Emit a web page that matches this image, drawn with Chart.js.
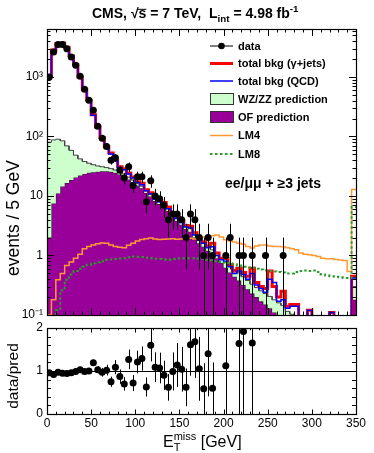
<!DOCTYPE html>
<html>
<head>
<meta charset="utf-8">
<script src="https://cdn.jsdelivr.net/npm/chart.js@4.4.1/dist/chart.umd.min.js"></script>
<style>
html, body { margin: 0; padding: 0; background: #fff; }
#wrap { position: relative; width: 374px; height: 453px; }
#wrap canvas { position: absolute; left: 0; top: 0; }
</style>
</head>
<body>
<div id="wrap">
  <canvas id="mainChart" width="374" height="453"></canvas>
  <canvas id="ratioChart" width="374" height="453"></canvas>
</div>
<script>
// E_T^miss histogram, 5 GeV bins from 0 to 350
const binWidth = 5;
const nBins = 70;
const xTicks = [0, 50, 100, 150, 200, 250, 300, 350];
const yMainTicks = [0.1, 1, 10, 100, 1000];
const yMainLabels = ['10\u207B\u00B9', '1', '10', '10\u00B2', '10\u00B3'];
const yRatioTicks = [0, 1, 2];

const dataCounts = [
  1000, 2620, 3530, 3530, 2980, 2160, 1580, 1030, 622, 406,
  276, 148, 93, 68, 40, 44, 27, 20, 31, 15,
  21, 21, 8, 18, 10, 9, 7, 4, 5, 5,
  4, 2, 5, 4, 2, 1, 2, 1, 0, 0,
  1, 2, 0, 1, 1, 0, 1, 0, 0, 1,
  0, 0, 0, 1, 0, 0, 0, 0, 0, 0,
  0, 0, 0, 0, 0, 0, 0, 0, 0, 0
];
const totGammaJets = [
  1040, 2850, 3640, 3720, 3170, 2250, 1600, 1000, 628, 406,
  232, 144, 96, 67, 53, 40, 31, 28.6, 24.4, 20.8,
  17.4, 16.3, 12.7, 11.3, 9.2, 8.4, 7.8, 6.5, 5.05, 4.4,
  3.85, 3.2, 3.1, 2.4, 1.9, 1.7, 1.43, 1.6, 1.1, 0.9,
  0.89, 0.7, 0.55, 0.61, 0.52, 0.45, 0.61, 0.35, 0.3, 0.28,
  0.55, 0.3, 0.2, 0.25, 0.14, 0.15, 0.15, 0.09, 0.09, 0.12,
  0.08, 0.08, 0.08, 0.08, 0.11, 0.08, 0.08, 0.08, 0.08, 0.45
];
const totQCD = [
  1000, 2800, 3600, 3700, 3150, 2230, 1580, 980, 615, 395,
  228, 141, 93, 65, 51, 39, 30, 27.5, 23.5, 20,
  16.8, 15.5, 12.2, 10.8, 8.8, 8.0, 7.4, 6.1, 4.8, 4.2,
  3.6, 3.0, 2.9, 2.2, 1.8, 1.6, 1.35, 1.4, 1.0, 0.85,
  0.8, 0.65, 0.5, 0.55, 0.48, 0.4, 0.5, 0.32, 0.28, 0.24,
  0.4, 0.35, 0.17, 0.18, 0.13, 0.14, 0.14, 0.09, 0.09, 0.12,
  0.08, 0.08, 0.08, 0.08, 0.11, 0.08, 0.08, 0.08, 0.08, 0.42
];
const ofPred = [
  2, 7.5, 11, 14.5, 16.5, 18.5, 20.5, 22, 23.5, 24.5,
  25, 25.5, 26, 26, 25.5, 24.5, 23, 21.5, 19, 17,
  15, 13.5, 11.2, 9.8, 8.2, 7.3, 6.6, 5.6, 4.4, 3.8,
  3.3, 2.8, 2.5, 2.0, 1.6, 1.4, 1.2, 1.05, 0.9, 0.75,
  0.62, 0.52, 0.44, 0.38, 0.32, 0.27, 0.23, 0.2, 0.17, 0.15,
  0.13, 0.11, 0.095, 0.085, 0.075, 0.068, 0.06, 0.055, 0.05, 0.046,
  0.042, 0.04, 0.037, 0.035, 0.032, 0.03, 0.028, 0.026, 0.024, 0.18
];
const wzPred = [
  78, 80, 79, 70, 53, 40, 28, 20, 14.5, 11,
  8.5, 6.5, 5, 4, 3.3, 2.8, 2.3, 2, 1.7, 1.5,
  1.3, 1.15, 1.0, 0.9, 0.8, 0.7, 0.62, 0.55, 0.5, 0.45,
  0.4, 0.36, 0.33, 0.3, 0.27, 0.25, 0.22, 0.2, 0.18, 0.17,
  0.16, 0.15, 0.14, 0.13, 0.12, 0.11, 0.1, 0.09, 0.085, 0.08,
  0.075, 0.07, 0.065, 0.06, 0.04, 0.035, 0.03, 0.03, 0.03, 0.03,
  0.03, 0.03, 0.03, 0.03, 0.03, 0.03, 0.03, 0.03, 0.03, 0.12
];
const lm4 = [
  0.1, 0.18, 0.39, 0.5, 0.68, 0.78, 0.9, 1.05, 1.3, 1.42,
  1.5, 1.58, 1.62, 1.6, 1.5, 1.42, 1.38, 1.35, 1.48, 1.6,
  1.75, 1.85, 1.92, 1.96, 1.9, 1.85, 1.88, 1.9, 1.92, 1.88,
  1.9, 1.92, 1.95, 1.9, 1.92, 2.05, 2.1, 2.15, 2.2, 2.05,
  1.84, 1.75, 1.68, 1.6, 1.55, 1.42, 1.33, 1.45, 1.5, 1.5,
  1.45, 1.42, 1.42, 1.4, 1.35, 1.3, 1.25, 1.1, 1.05, 1.03,
  1.0, 0.96, 0.9, 0.88, 0.88, 0.86, 0.84, 0.82, 0.54, 12.8
];
const lm8 = [
  0.02, 0.05, 0.12, 0.26, 0.39, 0.48, 0.55, 0.6, 0.65, 0.7,
  0.74, 0.77, 0.8, 0.85, 0.86, 0.87, 0.89, 0.9, 0.93, 0.96,
  0.95, 0.94, 0.92, 0.9, 0.88, 0.87, 0.86, 0.85, 0.87, 0.89,
  0.9, 0.9, 0.9, 0.9, 0.89, 0.88, 0.85, 0.83, 0.8, 0.78,
  0.76, 0.74, 0.71, 0.68, 0.65, 0.63, 0.62, 0.6, 0.58, 0.56,
  0.55, 0.54, 0.53, 0.52, 0.5, 0.5, 0.53, 0.55, 0.56, 0.55,
  0.56, 0.53, 0.48, 0.46, 0.45, 0.44, 0.43, 0.42, 0.42, 6.5
];
const ratioVals = [
  0.96, 0.92, 0.97, 0.95, 0.94, 0.96, 0.99, 1.03, 0.99, 1.0,
  1.19, 1.03, 0.97, 1.02, 0.75, 1.09, 0.87, 0.70, 1.27, 0.72,
  1.21, 1.29, 0.63, 1.60, 1.09, 1.07, 0.90, 0.62, 0.99, 1.14,
  1.04, 0.62, 1.61, 1.68, 1.05, 0.59, 1.40, 0.60, null, null,
  1.12, null, null, 1.64, 1.92, null, 1.65, null, null, null,
  null, null, null, null, null, null, null, null, null, null,
  null, null, null, null, null, null, null, null, null, null
];

const FONT = '"Liberation Sans", Arial, Helvetica, sans-serif';
const PURPLE = '#990099';
const LIGHTGREEN = '#ccffcc';
const ORANGE = '#ff9933';
const DGREEN = '#2a9a2a';

function histPoints(vals) {
  const pts = [];
  vals.forEach((v, i) => {
    pts.push({ x: i * binWidth, y: v });
    pts.push({ x: (i + 1) * binWidth, y: v });
  });
  return pts;
}
function centerPoints(vals) {
  return vals.map((v, i) => ({ x: (i + 0.5) * binWidth, y: (v === null || v <= 0) ? null : v }));
}
const stackTop = ofPred.map((v, i) => v + wzPred[i]);

// frame with inward ticks on all four sides
function framePlugin(opt) {
  return {
    id: 'frame' + opt.name,
    afterDraw(chart) {
      const ctx = chart.ctx, a = chart.chartArea;
      const xs = chart.scales.x, ys = chart.scales.y;
      ctx.save();
      ctx.strokeStyle = '#000';
      ctx.lineWidth = 1;
      ctx.beginPath();
      for (let v = 0; v <= 350; v += 10) {
        const px = Math.round(xs.getPixelForValue(v)) + 0.5;
        const len = v % 50 === 0 ? opt.xMajor : opt.xMinor;
        ctx.moveTo(px, a.bottom); ctx.lineTo(px, a.bottom - len);
        ctx.moveTo(px, a.top); ctx.lineTo(px, a.top + len);
      }
      opt.yTicks(ys).forEach(t => {
        const py = Math.round(ys.getPixelForValue(t.v)) + 0.5;
        if (py < a.top - 0.5 || py > a.bottom + 0.5) return;
        const len = t.major ? opt.yMajor : opt.yMinor;
        ctx.moveTo(a.left, py); ctx.lineTo(a.left + len, py);
        ctx.moveTo(a.right, py); ctx.lineTo(a.right - len, py);
      });
      ctx.stroke();
      ctx.lineWidth = 1.2;
      ctx.strokeRect(Math.round(a.left) + 0.5, Math.round(a.top) + 0.5,
        Math.round(a.right - a.left), Math.round(a.bottom - a.top));
      ctx.restore();
    }
  };
}

// error bars on the data points
function errorBarPlugin(name, lowFn, highFn) {
  return {
    id: 'errbars' + name,
    afterDatasetsDraw(chart) {
      const ctx = chart.ctx, a = chart.chartArea;
      const ys = chart.scales.y, xs = chart.scales.x;
      ctx.save();
      ctx.beginPath();
      ctx.rect(a.left, a.top, a.right - a.left, a.bottom - a.top);
      ctx.clip();
      ctx.strokeStyle = '#000';
      ctx.lineWidth = 1;
      ctx.beginPath();
      dataCounts.forEach((n, i) => {
        const lo = lowFn(i), hi = highFn(i);
        if (lo === null) return;
        const px = Math.round(xs.getPixelForValue((i + 0.5) * binWidth)) + 0.5;
        const pLo = lo <= ys.min ? a.bottom + 2 : ys.getPixelForValue(lo);
        ctx.moveTo(px, pLo);
        ctx.lineTo(px, ys.getPixelForValue(hi));
      });
      ctx.stroke();
      ctx.restore();
    }
  };
}

function drawRich(ctx, parts, x, y, size, bold) {
  let cx = x;
  parts.forEach(p => {
    const s = p.sub || p.sup ? size * 0.7 : size;
    ctx.font = (bold ? 'bold ' : '') + s + 'px ' + FONT;
    let dy = 0;
    if (p.sub) dy = size * 0.3;
    if (p.sup) dy = -size * 0.4;
    ctx.fillText(p.t, cx, y + dy);
    const w = ctx.measureText(p.t).width;
    if (p.over) {
      ctx.beginPath();
      ctx.lineWidth = 1;
      ctx.moveTo(cx - 1, y - size * 0.62);
      ctx.lineTo(cx + w, y - size * 0.62);
      ctx.stroke();
    }
    cx += w;
  });
  return cx;
}

const textPlugin = {
  id: 'mainText',
  afterDraw(chart) {
    const ctx = chart.ctx;
    ctx.save();
    ctx.fillStyle = '#000';
    ctx.strokeStyle = '#000';
    ctx.textBaseline = 'alphabetic';
    ctx.textAlign = 'left';
    drawRich(ctx, [
      { t: 'CMS, ' }, { t: '\u221A' }, { t: 's', over: true }, { t: ' = 7 TeV,  L' },
      { t: 'int', sub: true }, { t: ' = 4.98 fb' }, { t: '-1', sup: true }
    ], 92, 18, 14, true);

    // legend
    const lx0 = 210, lx1 = 233, tx = 238;
    const rows = [46, 63.5, 81, 99, 117, 135.5, 154];
    ctx.font = 'bold 11px ' + FONT;
    ctx.textBaseline = 'middle';
    const labels = ['data', 'total bkg (\u03B3+jets)', 'total bkg (QCD)', 'WZ/ZZ prediction', 'OF prediction', 'LM4', 'LM8'];
    labels.forEach((l, i) => ctx.fillText(l, tx, rows[i] + 0.5));
    ctx.lineWidth = 1;
    ctx.beginPath(); ctx.moveTo(lx0, rows[0]); ctx.lineTo(lx1, rows[0]); ctx.stroke();
    ctx.beginPath(); ctx.arc((lx0 + lx1) / 2, rows[0], 3.3, 0, Math.PI * 2); ctx.fill();
    ctx.strokeStyle = '#ff0000'; ctx.lineWidth = 3;
    ctx.beginPath(); ctx.moveTo(lx0, rows[1]); ctx.lineTo(lx1, rows[1]); ctx.stroke();
    ctx.strokeStyle = '#0000ff'; ctx.lineWidth = 1.5;
    ctx.beginPath(); ctx.moveTo(lx0, rows[2]); ctx.lineTo(lx1, rows[2]); ctx.stroke();
    ctx.lineWidth = 1; ctx.strokeStyle = '#333';
    ctx.fillStyle = LIGHTGREEN; ctx.fillRect(lx0, rows[3] - 5.5, lx1 - lx0, 11);
    ctx.strokeRect(lx0 + 0.5, rows[3] - 5.5, lx1 - lx0, 11);
    ctx.fillStyle = PURPLE; ctx.fillRect(lx0, rows[4] - 5.5, lx1 - lx0, 11);
    ctx.strokeRect(lx0 + 0.5, rows[4] - 5.5, lx1 - lx0, 11);
    ctx.strokeStyle = ORANGE; ctx.lineWidth = 1.5;
    ctx.beginPath(); ctx.moveTo(lx0, rows[5]); ctx.lineTo(lx1, rows[5]); ctx.stroke();
    ctx.strokeStyle = DGREEN; ctx.lineWidth = 2; ctx.setLineDash([2.5, 2.5]);
    ctx.beginPath(); ctx.moveTo(lx0, rows[6]); ctx.lineTo(lx1, rows[6]); ctx.stroke();
    ctx.setLineDash([]);

    ctx.fillStyle = '#000';
    ctx.textBaseline = 'alphabetic';
    ctx.font = 'bold 14px ' + FONT;
    ctx.fillText('ee/\u03BC\u03BC + \u22653 jets', 225, 188);

    // y title
    ctx.translate(19, 218);
    ctx.rotate(-Math.PI / 2);
    ctx.textAlign = 'center';
    ctx.font = '17.5px ' + FONT;
    ctx.fillText('events / 5 GeV', 0, 0);
    ctx.restore();
  }
};

const ratioText = {
  id: 'ratioText',
  afterDraw(chart) {
    const ctx = chart.ctx;
    const ys = chart.scales.y, a = chart.chartArea;
    ctx.save();
    ctx.strokeStyle = '#000';
    ctx.lineWidth = 1;
    const p1 = Math.round(ys.getPixelForValue(1)) + 0.5;
    ctx.beginPath(); ctx.moveTo(a.left, p1); ctx.lineTo(a.right, p1); ctx.stroke();
    ctx.fillStyle = '#000';
    ctx.textBaseline = 'alphabetic';
    ctx.font = '16px ' + FONT;
    const x0 = 163, y0 = 447;
    ctx.fillText('E', x0, y0);
    const wE = ctx.measureText('E').width;
    ctx.font = '11px ' + FONT;
    ctx.fillText('T', x0 + wE, y0 + 4);
    ctx.fillText('miss', x0 + wE, y0 - 7);
    const wm = ctx.measureText('miss').width;
    ctx.font = '16px ' + FONT;
    ctx.fillText(' [GeV]', x0 + wE + wm, y0);
    ctx.translate(18, 376);
    ctx.rotate(-Math.PI / 2);
    ctx.textAlign = 'center';
    ctx.font = '15.5px ' + FONT;
    ctx.fillText('data/pred', 0, 0);
    ctx.restore();
  }
};

const mainDatasets = [
  { label: 'OF prediction', data: histPoints(ofPred), borderColor: '#222', borderWidth: 1,
    backgroundColor: PURPLE, fill: 'start', pointRadius: 0, tension: 0, order: 7 },
  { label: 'WZ/ZZ prediction', data: histPoints(stackTop), borderColor: '#444', borderWidth: 1,
    backgroundColor: LIGHTGREEN, fill: '-1', pointRadius: 0, tension: 0, order: 6 },
  { label: 'total bkg (gamma+jets)', data: histPoints(totGammaJets), borderColor: '#ff0000', borderWidth: 3,
    fill: false, pointRadius: 0, tension: 0, order: 5 },
  { label: 'total bkg (QCD)', data: histPoints(totQCD), borderColor: '#0000ff', borderWidth: 1.5,
    fill: false, pointRadius: 0, tension: 0, order: 4 },
  { label: 'LM4', data: histPoints(lm4), borderColor: ORANGE, borderWidth: 1.5,
    fill: false, pointRadius: 0, tension: 0, order: 3 },
  { label: 'LM8', data: histPoints(lm8), borderColor: DGREEN, borderWidth: 2, borderDash: [2.5, 2.5],
    fill: false, pointRadius: 0, tension: 0, order: 2 },
  { label: 'data', data: centerPoints(dataCounts), showLine: false, pointRadius: 3.5,
    pointBackgroundColor: '#000', pointBorderColor: '#000', pointBorderWidth: 0, order: 1 }
];

new Chart(document.getElementById('mainChart'), {
  type: 'line',
  data: { datasets: mainDatasets },
  options: {
    responsive: false, animation: false, devicePixelRatio: 1,
    layout: { padding: { top: 29, right: 18, bottom: 138, left: 0 } },
    plugins: { legend: { display: false }, tooltip: { enabled: false } },
    scales: {
      x: { type: 'linear', min: 0, max: 350, display: false },
      y: {
        type: 'logarithmic', min: 0.1, max: 6400,
        afterFit: s => { s.width = 47; },
        afterBuildTicks: s => { s.ticks = yMainTicks.map(v => ({ value: v })); },
        ticks: { padding: 4, color: '#000', font: { family: FONT, size: 12 },
          callback: (v) => yMainLabels[yMainTicks.indexOf(v)] },
        grid: { display: false, drawTicks: false }, border: { display: false }
      }
    }
  },
  plugins: [
    errorBarPlugin('main', i => dataCounts[i] > 0 ? dataCounts[i] - Math.sqrt(dataCounts[i]) : null,
      i => dataCounts[i] + Math.sqrt(dataCounts[i])),
    framePlugin({ name: 'main', xMajor: 7, xMinor: 3.5, yMajor: 7, yMinor: 3.5,
      yTicks: ys => {
        const t = [];
        yMainTicks.forEach(d => { for (let m = 1; m <= 9; m++) t.push({ v: d * m, major: m === 1 }); });
        return t;
      } }),
    textPlugin
  ]
});

new Chart(document.getElementById('ratioChart'), {
  type: 'line',
  data: { datasets: [
    { label: 'data/pred', data: centerPoints(ratioVals), showLine: false, pointRadius: 3.5,
      pointBackgroundColor: '#000', pointBorderColor: '#000', pointBorderWidth: 0 }
  ] },
  options: {
    responsive: false, animation: false, devicePixelRatio: 1,
    layout: { padding: { top: 328, right: 18, bottom: 0, left: 0 } },
    plugins: { legend: { display: false }, tooltip: { enabled: false } },
    scales: {
      x: {
        type: 'linear', min: 0, max: 350,
        afterFit: s => { s.height = 39; },
        afterBuildTicks: s => { s.ticks = xTicks.map(v => ({ value: v })); },
        ticks: { padding: 2, color: '#000', maxRotation: 0, font: { family: FONT, size: 12 } },
        grid: { display: false, drawTicks: false }, border: { display: false }
      },
      y: {
        type: 'linear', min: 0, max: 2,
        afterFit: s => { s.width = 47; },
        afterBuildTicks: s => { s.ticks = yRatioTicks.map(v => ({ value: v })); },
        ticks: { padding: 4, color: '#000', font: { family: FONT, size: 12 } },
        grid: { display: false, drawTicks: false }, border: { display: false }
      }
    }
  },
  plugins: [
    errorBarPlugin('ratio', i => (ratioVals[i] === null || dataCounts[i] <= 0) ? null : ratioVals[i] * (1 - 1 / Math.sqrt(dataCounts[i])),
      i => ratioVals[i] === null ? null : ratioVals[i] * (1 + 1 / Math.sqrt(dataCounts[i]))),
    framePlugin({ name: 'ratio', xMajor: 4.5, xMinor: 2.3, yMajor: 8, yMinor: 4,
      yTicks: ys => {
        const t = [];
        for (let k = 0; k <= 10; k++) t.push({ v: k * 0.2, major: k % 5 === 0 });
        return t;
      } }),
    ratioText
  ]
});
</script>
</body>
</html>
